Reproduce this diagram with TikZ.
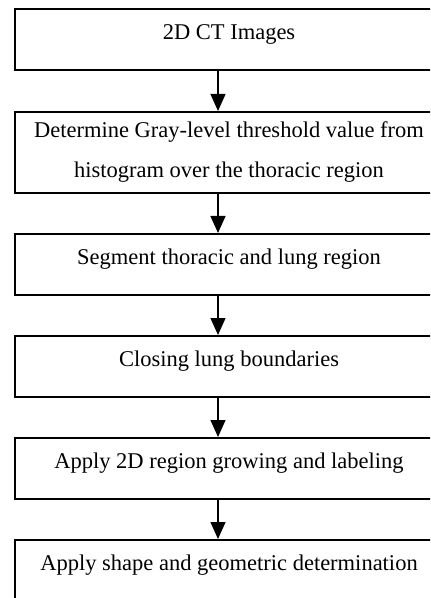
\documentclass[tikz,border=0pt]{standalone}
\usepackage{fontspec}
\setmainfont{Liberation Serif}
\usetikzlibrary{arrows.meta}
\tikzset{
  stage/.style={rectangle,draw=black,line width=1pt,fill=white,
    minimum width=214pt,minimum height=30.5pt,inner sep=0pt,
    align=center,font=\fontsize{11.25}{20}\selectfont},
  oneline/.style={stage,text height=6pt,text depth=6pt},
  flow/.style={-{Triangle[length=8.5pt,width=7.5pt]},line width=.6pt}}

\begin{document}
\begin{tikzpicture}[x=.5pt,y=-.5pt]
  \useasboundingbox (0,0) rectangle (430,598);
  \clip (0,0) rectangle (430,598);

  \node[oneline] (ct) at (229,40) {2D CT Images};
  \node[stage,minimum height=40.5pt] (thr) at (229,152.5)
    {Determine Gray-level threshold value from\\
     histogram over the thoracic region};
  \node[oneline] (seg) at (229,264.5) {Segment thoracic and lung region};
  \node[oneline] (close) at (229,366.5) {Closing lung boundaries};
  \node[oneline] (grow) at (229,468.5)
    {Apply 2D region growing and labeling};
  \node[oneline] (shape) at (229,570.5)
    {Apply shape and geometric determination};

  % arrows sit left of the box centre
  \draw[flow] ([xshift=-5.5pt]ct.south) -- ([xshift=-5.5pt]thr.north);
  \draw[flow] ([xshift=-5.5pt]thr.south) -- ([xshift=-5.5pt]seg.north);
  \draw[flow] ([xshift=-5.5pt]seg.south) -- ([xshift=-5.5pt]close.north);
  \draw[flow] ([xshift=-5.5pt]close.south) -- ([xshift=-5.5pt]grow.north);
  \draw[flow] ([xshift=-5.5pt]grow.south) -- ([xshift=-5.5pt]shape.north);
\end{tikzpicture}
\end{document}
